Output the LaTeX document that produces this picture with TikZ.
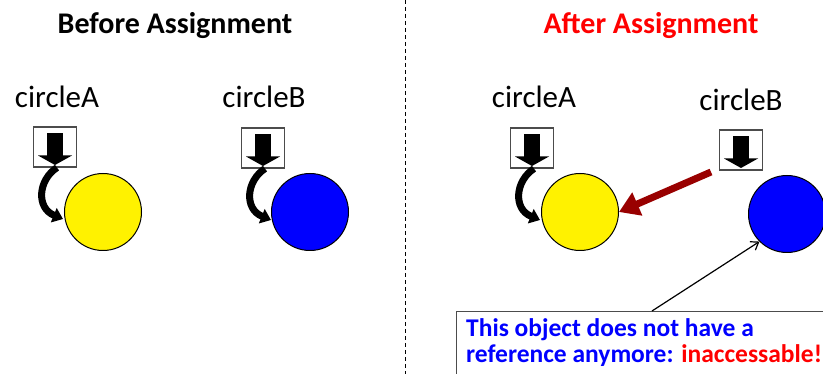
\documentclass[tikz,border=0pt]{standalone}
\usepackage{fontspec}
\setmainfont{Carlito}
\usetikzlibrary{arrows.meta}
\definecolor{darkred}{HTML}{990000}
\definecolor{ttred}{HTML}{FF0000}
\definecolor{ttblue}{HTML}{0000FF}
\begin{document}
\begin{tikzpicture}[x=1pt,y=-1pt,
  refbox/.style={draw=black!70, line width=1.2pt, fill=white, minimum width=43pt, minimum height=40pt, inner sep=0pt},
  obj/.style={circle, draw=black, line width=1pt, minimum size=77pt, inner sep=0pt},
  lbl/.style={font=\fontsize{31}{36}\selectfont, inner sep=0pt},
  ttl/.style={font=\fontsize{30}{36}\selectfont\bfseries, inner sep=0pt},
  dnarrow/.pic={\fill (-8,-14) rectangle (8,9); \fill (-17,8.5) -- (17,8.5) -- (0,18) -- cycle;},
  curvarrow/.style={line width=7pt, -{Triangle[length=10pt,width=15pt]}}
]
\useasboundingbox (0,0) rectangle (823,374);
% titles
\node[ttl] (t1) at (175,26) {Before Assignment};
\node[ttl, text=ttred] (t2) at (651,26) {After Assignment};
\coordinate (dtop) at (405,0);
\coordinate (dbot) at (405,374);
\draw[line width=0.8pt, dash pattern=on 4pt off 3pt] (dtop) -- (dbot);
% left side
\node[lbl] (la) at (57,97) {circleA};
\node[lbl] (lb) at (264,97) {circleB};
\node[refbox] (ba1) at (55,147) {};
\pic at (55,147) {dnarrow};
\node[refbox] (bb1) at (263,148) {};
\pic at (263,148) {dnarrow};
\node[obj, fill=yellow] (ya1) at (103,212) {};
\node[obj, fill=ttblue] (bl1) at (310,212) {};
\draw[curvarrow] ([xshift=2pt]ba1.south) .. controls (38,180) and (36,208) .. (63,219);
\draw[curvarrow] ([xshift=2pt]bb1.south) .. controls (246,181) and (244,209) .. (271,220);
% right side
\node[lbl] (ra) at (534,97) {circleA};
\node[lbl] (rb) at (741,100) {circleB};
\node[refbox] (ba2) at (532,148) {};
\pic at (532,148) {dnarrow};
\node[refbox] (bb2) at (741,150) {};
\pic at (741,150) {dnarrow};
\node[obj, fill=yellow] (ya2) at (580,212) {};
\node[obj, fill=ttblue] (bl2) at (787,214) {};
\draw[curvarrow] ([xshift=2pt]ba2.south) .. controls (515,181) and (513,209) .. (540,220);
\coordinate (rs) at (711,172);
\draw[line width=7pt, darkred, -{Triangle[length=20pt,width=24pt]}] (rs) -- (ya2.east);
% callout
\node[draw=black!70, line width=1.2pt, fill=white, anchor=north west, minimum width=380pt, minimum height=80pt, inner sep=0pt] (call) at (456,311) {};
\node[anchor=north west, align=left, inner sep=0pt, text=ttblue, font=\fontsize{25.5}{26}\selectfont\bfseries] (ct) at (466,318) {This object does not have a\\reference anymore: \textcolor{ttred}{inaccessable!}};
\coordinate (cp) at (652,311);
\draw[line width=1.2pt, -{Straight Barb[length=7pt,width=10pt]}] (cp) -- (bl2.225);
\end{tikzpicture}
\end{document}
